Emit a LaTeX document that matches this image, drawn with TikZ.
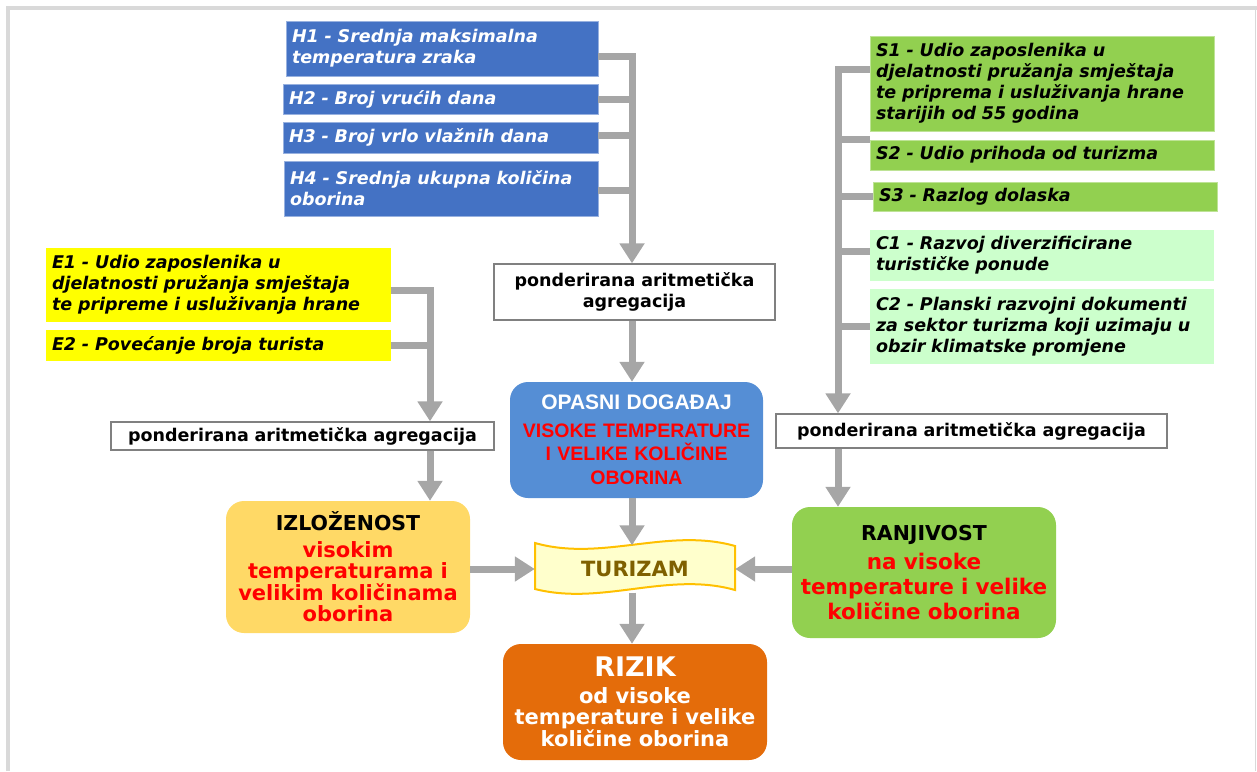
\documentclass[tikz,border=0pt]{standalone}
\usepackage{fontspec}
\setmainfont{DejaVu Sans}
\newfontfamily\arialf{Liberation Sans}
\usetikzlibrary{arrows.meta,calc}
\definecolor{hblue}{HTML}{4472C4}
\definecolor{opblue}{HTML}{558ED5}
\definecolor{sgreen}{HTML}{92D050}
\definecolor{cgreen}{HTML}{CCFFCC}
\definecolor{eyellow}{HTML}{FFFF00}
\definecolor{izlfill}{HTML}{FFD966}
\definecolor{rizfill}{HTML}{E46C0A}
\definecolor{busgray}{HTML}{A6A6A6}
\definecolor{agggray}{HTML}{808080}
\definecolor{turfill}{HTML}{FFFFCC}
\definecolor{turborder}{HTML}{FFC000}
\definecolor{turtext}{HTML}{7F6000}
\definecolor{framegray}{HTML}{D9D9D9}
\definecolor{txtred}{HTML}{FF0000}
\begin{document}
\begin{tikzpicture}[x=1pt,y=-1pt,
  indbox/.style={font=\fontsize{17.5}{21}\selectfont\bfseries\itshape, align=left, inner xsep=6pt, inner ysep=0pt, anchor=center},
  hbox/.style={indbox, fill=hblue, text=white, draw=hblue!55!white, line width=0.8pt},
  ebox/.style={indbox, fill=eyellow, text=black},
  sbox/.style={indbox, fill=sgreen, text=black, draw=sgreen!60!white, line width=0.8pt},
  cbox/.style={indbox, fill=cgreen, text=black},
  aggbox/.style={draw=agggray, line width=1.3pt, fill=white, align=center, inner xsep=6pt, inner ysep=0pt, font=\fontsize{17.5}{21}\selectfont\bfseries},
  rbox/.style={rounded corners=18pt, align=center, inner xsep=6pt, inner ysep=0pt},
  bus/.style={draw=busgray, line width=7pt},
  arr/.style={bus, -{Triangle[width=24pt,length=20pt]}}
]
\useasboundingbox (0,0) rectangle (1257,771);
% frame
\draw[framegray, line width=3.5pt] (8,771) -- (8,8) -- (1257,8);
\draw[framegray, line width=1.5pt] (1255.5,8) -- (1255.5,771);

% H boxes
\node[hbox, minimum width=312pt, minimum height=55pt, text width=300pt] (h1) at (442,48.5) {H1 - Srednja maksimalna\\temperatura zraka};
\node[hbox, minimum width=315pt, minimum height=30pt, text width=303pt] (h2) at (440.5,99) {H2 - Broj vrućih dana};
\node[hbox, minimum width=315pt, minimum height=31pt, text width=303pt] (h3) at (440.5,137.5) {H3 - Broj vrlo vlažnih dana};
\node[hbox, minimum width=314pt, minimum height=55pt, text width=302pt] (h4) at (441,188.5) {H4 - Srednja ukupna količina\\oborina};

% E boxes
\node[ebox, minimum width=345pt, minimum height=74pt, text width=333pt] (e1) at (218.5,285) {E1 - Udio zaposlenika u\\djelatnosti pružanja smještaja\\te pripreme i usluživanja hrane};
\node[ebox, minimum width=345pt, minimum height=31pt, text width=333pt] (e2) at (218.5,345.5) {E2 - Povećanje broja turista};

% S and C boxes
\node[sbox, minimum width=344pt, minimum height=95pt, text width=332pt] (s1) at (1042,83.5) {S1 - Udio zaposlenika u\\djelatnosti pružanja smještaja\\te priprema i usluživanja hrane\\starijih od 55 godina};
\node[sbox, minimum width=344pt, minimum height=30pt, text width=332pt] (s2) at (1042,155) {S2 - Udio prihoda od turizma};
\node[sbox, minimum width=344pt, minimum height=29pt, text width=332pt] (s3) at (1045,196.5) {S3 - Razlog dolaska};
\node[cbox, minimum width=344pt, minimum height=51pt, text width=332pt] (c1) at (1042,255.5) {C1 - Razvoj diverzificirane\\turističke ponude};
\node[cbox, minimum width=344pt, minimum height=75pt, text width=332pt] (c2) at (1042,326.5) {C2 - Planski razvojni dokumenti\\za sektor turizma koji uzimaju u\\obzir klimatske promjene};

% aggregation boxes
\node[aggbox, minimum width=281pt, minimum height=56pt, text width=269pt] (agg1) at (634.5,292) {ponderirana aritmetička\\agregacija};
\node[aggbox, minimum width=383pt, minimum height=28pt, text width=371pt] (agg2) at (302.5,436) {ponderirana aritmetička agregacija};
\node[aggbox, minimum width=391pt, minimum height=34pt, text width=379pt] (agg3) at (971.5,431) {ponderirana aritmetička agregacija};

% central boxes
\node[rbox, fill=opblue, minimum width=253pt, minimum height=116pt, text width=241pt, text=txtred, font=\arialf\bfseries\fontsize{19.5}{23.5}\selectfont] (haz) at (636.5,440) {\textcolor{white}{\fontsize{21}{23.5}\selectfont OPASNI DOGAĐAJ}\\[4pt]VISOKE TEMPERATURE\\I VELIKE KOLIČINE\\OBORINA};

\node[rbox, fill=izlfill, minimum width=244pt, minimum height=132pt, text width=236pt, inner xsep=4pt, text=txtred, font=\bfseries\fontsize{21}{21.5}\selectfont] (izl) at (348,567) {\textcolor{black}{\fontsize{20.5}{22}\selectfont IZLOŽENOST}\\[5pt]visokim\\temperaturama i\\velikim količinama\\oborina};

\node[rbox, fill=sgreen, minimum width=264pt, minimum height=131pt, text width=252pt, text=txtred, font=\bfseries\fontsize{21.5}{25}\selectfont] (ranj) at (924,572.5) {\textcolor{black}{\fontsize{20.5}{22}\selectfont RANJIVOST}\\[4pt]na visoke\\temperature i velike\\količine oborina};

\node[rbox, fill=rizfill, minimum width=264pt, minimum height=116pt, text width=252pt, text=white, font=\bfseries\fontsize{21}{21}\selectfont] (riz) at (635,702) {{\fontsize{27}{28}\selectfont RIZIK}\\[6pt]od visoke\\temperature i velike\\količine oborina};

% TURIZAM banner
\filldraw[fill=turfill, draw=turborder, line width=2pt] (535,543) .. controls (602,562) and (668,527) .. (735,546) -- (735,590) .. controls (668,571) and (602,606) .. (535,589) -- cycle;
\node[minimum width=200pt, minimum height=47pt, inner sep=0pt, text=turtext, font=\bfseries\fontsize{21}{22}\selectfont] (tur) at (635,569) {TURIZAM};

% bus coordinates
\coordinate (hb) at (632,0);
\coordinate (eb) at (430,0);
\coordinate (sb) at (838,0);
\coordinate (cb) at (632,0);

% H bus
\draw[arr] ($(h1.east)+(0,8)$) -| (hb |- agg1.north);
\draw[bus] (h2.east) -- (h2.east -| hb);
\draw[bus] ($(h3.east)+(0,-2)$) -- ($(h3.east -| hb)+(0,-2)$);
\draw[bus] ($(h4.east)+(0,2)$) -- ($(h4.east -| hb)+(0,2)$);

% E bus
\draw[arr] ($(e1.east)+(0,5)$) -| (eb |- agg2.north);
\draw[bus] (e2.east) -- (e2.east -| eb);

% S bus
\draw[arr] ($(s1.west)+(0,-14)$) -| (sb |- agg3.north);
\draw[bus] ($(s2.west)+(0,-16)$) -- ($(s2.west -| sb)+(0,-16)$);
\draw[bus] (s3.west) -- (s3.west -| sb);
\draw[bus] ($(c1.west)+(0,-4)$) -- ($(c1.west -| sb)+(0,-4)$);
\draw[bus] (c2.west) -- (c2.west -| sb);

% vertical arrows
\draw[arr] (cb |- agg1.south) -- (cb |- haz.north);
\draw[arr] (eb |- agg2.south) -- (eb |- izl.north);
\draw[arr] (sb |- agg3.south) -- (sb |- ranj.north);
\draw[arr] (cb |- haz.south) -- (cb |- tur.north);
\draw[arr] (cb |- tur.south) -- (cb |- riz.north);
\draw[arr] (izl.east |- tur.west) -- (tur.west);
\draw[arr] (ranj.west |- tur.east) -- (tur.east);
\end{tikzpicture}
\end{document}
